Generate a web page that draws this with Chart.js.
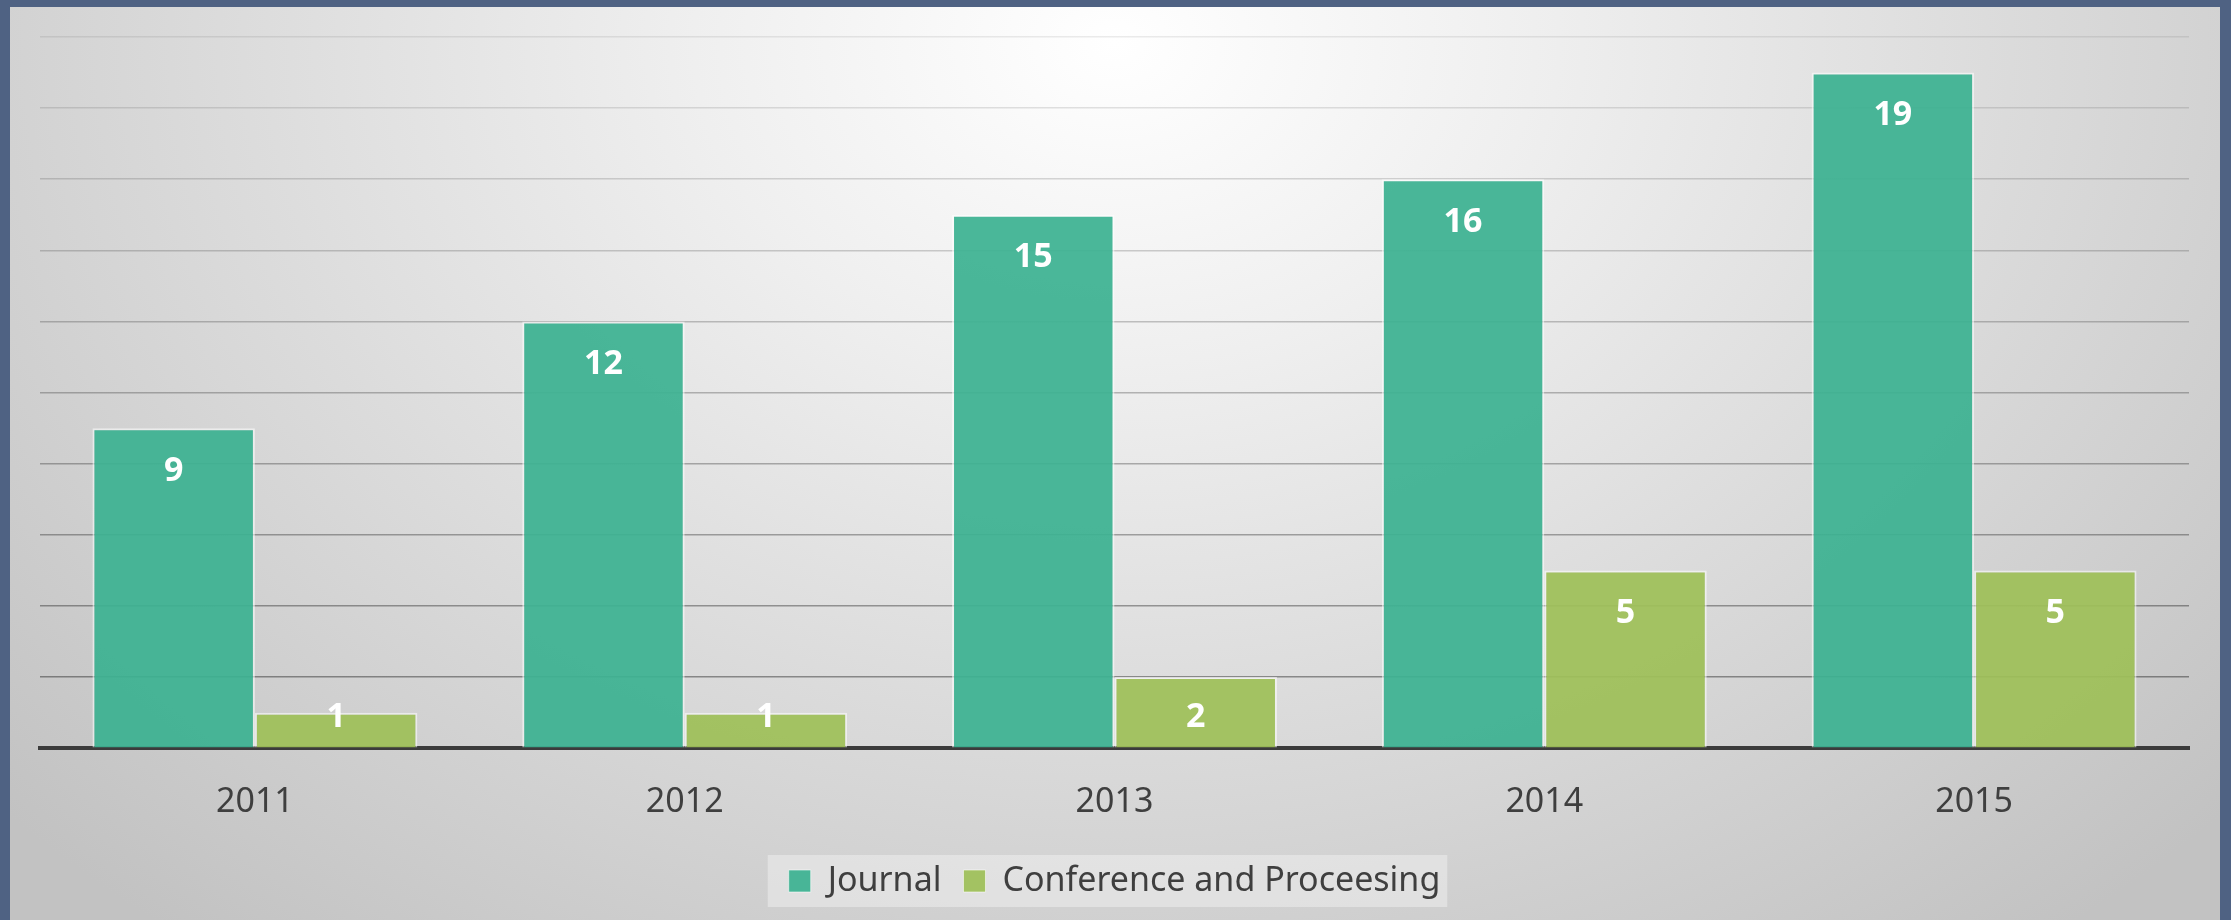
<!DOCTYPE html>
<html>
<head>
<meta charset="utf-8">
<script src="https://cdn.jsdelivr.net/npm/chart.js@4.4.1/dist/chart.umd.min.js"></script>
<style>
  html, body { margin: 0; padding: 0; }
  body { width: 2231px; height: 920px; background: #4f6283; position: relative; overflow: hidden; }
  #panel {
    position: absolute; left: 10px; top: 7px; width: 2210px; height: 913px;
    background: radial-gradient(ellipse 68% 125% at 50% 4%, #ffffff 0%, #efefef 28%, #dcdcdc 58%, #c2c2c2 100%);
  }
  canvas { display: block; }
</style>
</head>
<body>
<div id="panel"><canvas id="graphique" width="2210" height="913"></canvas></div>
<script>
const annees = ["2011", "2012", "2013", "2014", "2015"];
const journal = [9, 12, 15, 16, 19];
const conference = [1, 1, 2, 5, 5];
const nomsSeries = ["Journal", "Conference and Proceesing"];

// étiquettes blanches en haut des barres
const etiquettesBarres = {
  id: "etiquettesBarres",
  afterDatasetsDraw(chart) {
    const ctx = chart.ctx;
    ctx.save();
    ctx.fillStyle = "#ffffff";
    ctx.font = "bold 34px 'Noto Sans'";
    ctx.textAlign = "center";
    ctx.textBaseline = "middle";
    chart.data.datasets.forEach((ds, i) => {
      const meta = chart.getDatasetMeta(i);
      meta.data.forEach((barre, j) => {
        const y = Math.min(barre.y + 43, barre.base - 30);
        ctx.fillText(ds.data[j], barre.x, y);
      });
    });
    ctx.restore();
  }
};

// fond clair derrière la légende
const fondLegende = {
  id: "fondLegende",
  beforeDraw(chart) {
    const boites = chart.legend.legendHitBoxes;
    if (!boites || !boites.length) return;
    const premier = boites[0];
    const dernier = boites[boites.length - 1];
    const ctx = chart.ctx;
    ctx.save();
    ctx.fillStyle = "rgba(255,255,255,0.35)";
    ctx.fillRect(premier.left - 21, premier.top + premier.height / 2 - 26,
      dernier.left + dernier.width - premier.left + 28, 52);
    ctx.restore();
  }
};

new Chart(document.getElementById("graphique"), {
  type: "bar",
  data: {
    labels: annees,
    datasets: [
      {
        label: nomsSeries[0],
        data: journal,
        backgroundColor: "rgba(60,178,145,0.93)",
        borderColor: "rgba(255,255,255,0.55)",
        borderWidth: 2
      },
      {
        label: nomsSeries[1],
        data: conference,
        backgroundColor: "rgba(158,192,88,0.93)",
        borderColor: "rgba(255,255,255,0.55)",
        borderWidth: 2
      }
    ]
  },
  options: {
    responsive: false,
    animation: false,
    devicePixelRatio: 1,
    layout: { padding: { left: 30, right: 31, top: 30, bottom: 12 } },
    datasets: { bar: { barPercentage: 1, categoryPercentage: 0.756 } },
    scales: {
      x: {
        afterFit(scale) { scale.height -= 15; },
        grid: { display: false, drawTicks: false },
        border: { display: true, color: "#3b3b3b", width: 4 },
        ticks: { color: "#3f3f3f", font: { family: "'Noto Sans'", size: 34 }, padding: 34 }
      },
      y: {
        min: 0,
        max: 20,
        afterFit(scale) { scale.width = 0; },
        ticks: { display: false, stepSize: 2 },
        border: { display: false },
        grid: {
          drawTicks: false,
          lineWidth: 1.5,
          color: (c) => {
            const v = c.tick ? c.tick.value : 0;
            if (v === 0) return "rgba(0,0,0,0)";
            return "rgba(0,0,0," + (0.42 - v * 0.017).toFixed(3) + ")";
          }
        }
      }
    },
    plugins: {
      tooltip: { enabled: false },
      legend: {
        position: "bottom",
        labels: {
          color: "#3f3f3f",
          font: { family: "'Noto Sans'", size: 34 },
          boxWidth: 22,
          boxHeight: 22,
          padding: 22,
          generateLabels(chart) {
            return chart.data.datasets.map((ds, i) => ({
              text: ds.label,
              fillStyle: ds.backgroundColor,
              strokeStyle: "rgba(255,255,255,0.55)",
              lineWidth: 1,
              fontColor: "#3f3f3f",
              datasetIndex: i
            }));
          }
        }
      }
    }
  },
  plugins: [etiquettesBarres, fondLegende]
});
</script>
</body>
</html>
